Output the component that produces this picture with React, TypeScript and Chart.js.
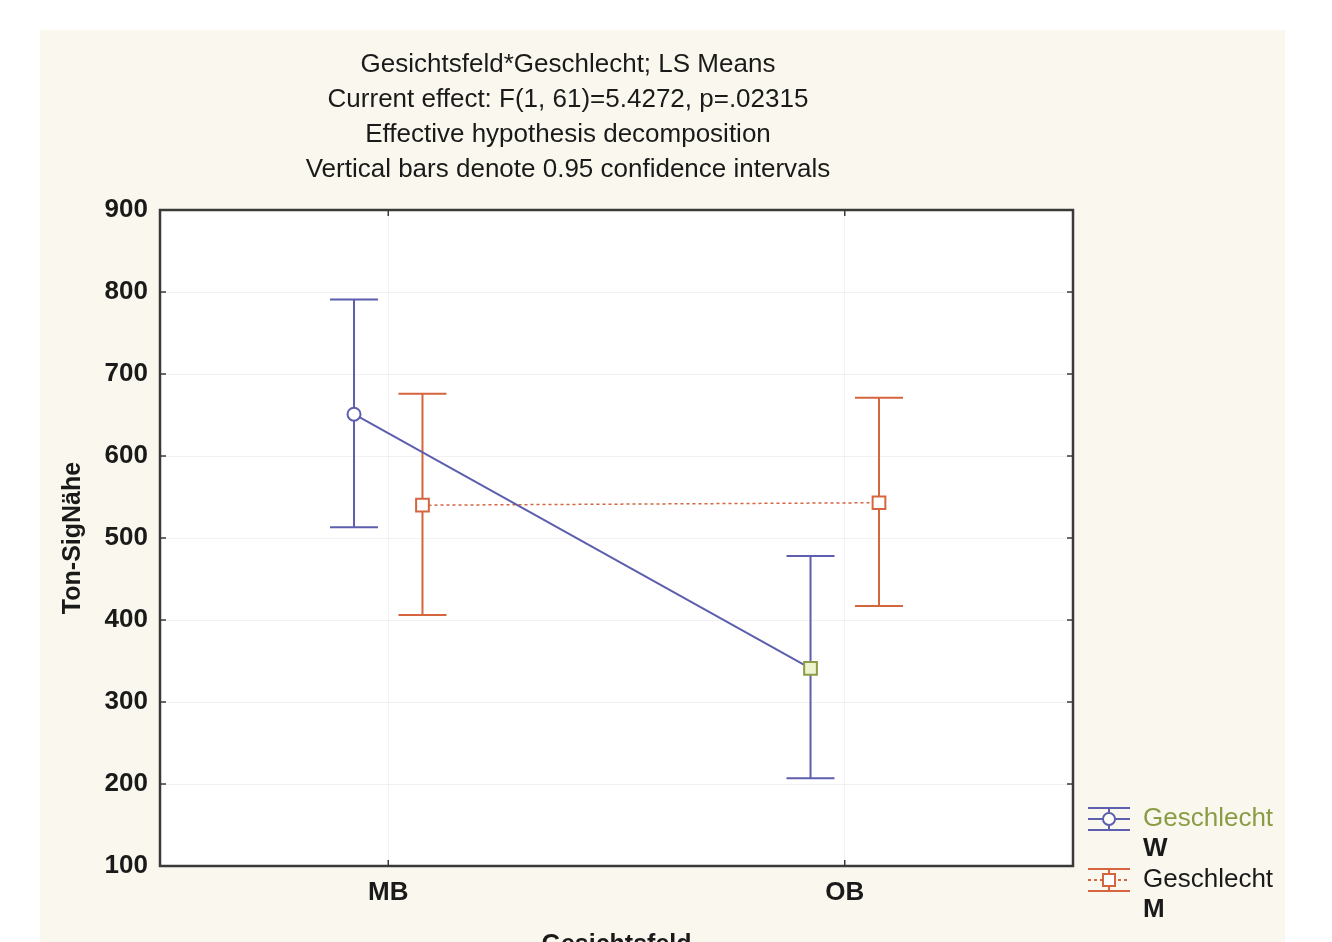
import React, { useEffect, useRef } from "react";
import { Chart, registerables } from "chart.js";

Chart.register(...registerables);

const CATEGORIES = ["MB", "OB"];
const W_MEANS = [651, 341];
const W_LOWER = [513, 207];
const W_UPPER = [791, 478];
const M_MEANS = [540, 543];
const M_LOWER = [406, 417];
const M_UPPER = [676, 671];
const DODGE = 0.075;
const Y_MIN = 100;
const Y_MAX = 900;
const Y_STEP = 100;

const TITLE_LINES = [
  "Gesichtsfeld*Geschlecht; LS Means",
  "Current effect: F(1, 61)=5.4272, p=.02315",
  "Effective hypothesis decomposition",
  "Vertical bars denote 0.95 confidence intervals",
];
const X_TITLE = "Gesichtsfeld";
const Y_TITLE = "Ton-SigNähe";
const LEGEND = [
  { line1: "Geschlecht", line2: "W" },
  { line1: "Geschlecht", line2: "M" },
];

const BLUE = "#5d5fae";
const ORANGE = "#d4653e";
const GREEN = "#8a9d45";
const FONT = "'Liberation Sans', Arial, sans-serif";

export default function App() {
  const ref = useRef<HTMLCanvasElement | null>(null);

  useEffect(() => {
    if (!ref.current) return;

    const errorBars = {
      id: "errorBars",
      beforeDraw(chart: any) {
        const { ctx, chartArea: a } = chart;
        ctx.save();
        ctx.fillStyle = "#ffffff";
        ctx.fillRect(a.left, a.top, a.right - a.left, a.bottom - a.top);
        ctx.restore();
      },
      beforeDatasetsDraw(chart: any) {
        const { ctx } = chart;
        const xs = chart.scales.x;
        const ys = chart.scales.y;
        ctx.save();
        chart.data.datasets.forEach((ds: any) => {
          ctx.strokeStyle = ds.errColor;
          ctx.lineWidth = 2;
          ds.data.forEach((p: any, i: number) => {
            const x = xs.getPixelForValue(p.x);
            const yl = ys.getPixelForValue(ds.lower[i]);
            const yh = ys.getPixelForValue(ds.upper[i]);
            ctx.beginPath();
            ctx.moveTo(x, yl);
            ctx.lineTo(x, yh);
            ctx.moveTo(x - 24, yl);
            ctx.lineTo(x + 24, yl);
            ctx.moveTo(x - 24, yh);
            ctx.lineTo(x + 24, yh);
            ctx.stroke();
          });
        });
        ctx.restore();
      },
      afterDraw(chart: any) {
        const { ctx, chartArea: a } = chart;
        const xs = chart.scales.x;
        const ys = chart.scales.y;
        ctx.save();
        // frame
        ctx.strokeStyle = "#3a3a3a";
        ctx.lineWidth = 2.5;
        ctx.strokeRect(a.left, a.top, a.right - a.left, a.bottom - a.top);
        // inner ticks
        ctx.lineWidth = 1.5;
        ys.ticks.forEach((t: any) => {
          const y = ys.getPixelForValue(t.value);
          ctx.beginPath();
          ctx.moveTo(a.left, y);
          ctx.lineTo(a.left + 6, y);
          ctx.moveTo(a.right, y);
          ctx.lineTo(a.right - 6, y);
          ctx.stroke();
        });
        xs.ticks.forEach((t: any) => {
          const x = xs.getPixelForValue(t.value);
          ctx.beginPath();
          ctx.moveTo(x, a.bottom);
          ctx.lineTo(x, a.bottom - 6);
          ctx.moveTo(x, a.top);
          ctx.lineTo(x, a.top + 6);
          ctx.stroke();
        });
        // title
        ctx.fillStyle = "#1a1a1a";
        ctx.font = `26px ${FONT}`;
        ctx.textAlign = "center";
        ctx.textBaseline = "middle";
        TITLE_LINES.forEach((l, i) => ctx.fillText(l, 528, 35 + i * 35));
        // legend
        const entries = [
          { y: 789, color: BLUE, dashed: false, style: "circle", firstColor: GREEN },
          { y: 850, color: ORANGE, dashed: true, style: "rect", firstColor: "#1a1a1a" },
        ];
        entries.forEach((e, i) => {
          const cx = 1069;
          ctx.strokeStyle = e.color;
          ctx.lineWidth = 2;
          ctx.setLineDash([]);
          ctx.beginPath();
          ctx.moveTo(cx - 21, e.y - 11);
          ctx.lineTo(cx + 21, e.y - 11);
          ctx.moveTo(cx - 21, e.y + 11);
          ctx.lineTo(cx + 21, e.y + 11);
          ctx.moveTo(cx, e.y - 11);
          ctx.lineTo(cx, e.y + 11);
          ctx.stroke();
          if (e.dashed) ctx.setLineDash([3, 3]);
          ctx.beginPath();
          ctx.moveTo(cx - 21, e.y);
          ctx.lineTo(cx + 21, e.y);
          ctx.stroke();
          ctx.setLineDash([]);
          ctx.fillStyle = "#fff";
          ctx.beginPath();
          if (e.style === "circle") ctx.arc(cx, e.y, 6, 0, Math.PI * 2);
          else ctx.rect(cx - 6, e.y - 6, 12, 12);
          ctx.fill();
          ctx.stroke();
          ctx.textAlign = "left";
          ctx.textBaseline = "middle";
          ctx.font = `26px ${FONT}`;
          ctx.fillStyle = e.firstColor;
          ctx.fillText(LEGEND[i].line1, 1103, e.y);
          ctx.fillStyle = "#1a1a1a";
          ctx.font = `bold 26px ${FONT}`;
          ctx.fillText(LEGEND[i].line2, 1103, e.y + 30);
        });
        ctx.restore();
      },
    };

    const chart = new Chart(ref.current, {
      type: "line",
      data: {
        datasets: [
          {
            label: "Geschlecht W",
            data: W_MEANS.map((v, i) => ({ x: i - DODGE, y: v })),
            lower: W_LOWER,
            upper: W_UPPER,
            errColor: BLUE,
            borderColor: BLUE,
            borderWidth: 2,
            pointStyle: ["circle", "rect"],
            pointRadius: [6.5, 9],
            pointBorderWidth: 2,
            pointBorderColor: [BLUE, GREEN],
            pointBackgroundColor: ["#ffffff", "#eef4cf"],
          } as any,
          {
            label: "Geschlecht M",
            data: M_MEANS.map((v, i) => ({ x: i + DODGE, y: v })),
            lower: M_LOWER,
            upper: M_UPPER,
            errColor: ORANGE,
            borderColor: ORANGE,
            borderWidth: 1.5,
            borderDash: [3, 3],
            pointStyle: "rect",
            pointRadius: 9,
            pointBorderWidth: 2,
            pointBorderColor: ORANGE,
            pointBackgroundColor: "#ffffff",
          } as any,
        ],
      },
      options: {
        animation: false,
        responsive: false,
        maintainAspectRatio: false,
        layout: { padding: { left: 0, top: 180, right: 212, bottom: 0 } },
        plugins: { legend: { display: false }, title: { display: false }, tooltip: { enabled: false } },
        scales: {
          x: {
            type: "linear",
            min: -0.5,
            max: 1.5,
            afterBuildTicks: (s: any) => {
              s.ticks = CATEGORIES.map((_, i) => ({ value: i }));
            },
            afterFit: (s: any) => {
              s.height = 94;
            },
            grid: { color: "rgba(0,0,0,0.05)", drawTicks: false },
            border: { display: false },
            ticks: {
              padding: 11,
              color: "#1a1a1a",
              font: { family: FONT, size: 26, weight: "bold" },
              callback: (v: any) => CATEGORIES[Math.round(Number(v))] ?? "",
            },
            title: {
              display: true,
              text: X_TITLE,
              color: "#1a1a1a",
              font: { family: FONT, size: 25, weight: "bold" },
              padding: { top: 0, bottom: 0 },
            },
          },
          y: {
            min: Y_MIN,
            max: Y_MAX,
            afterFit: (s: any) => {
              s.width = 120;
            },
            grid: { color: "rgba(0,0,0,0.05)", drawTicks: false },
            border: { display: false },
            ticks: {
              stepSize: Y_STEP,
              padding: 12,
              color: "#1a1a1a",
              font: { family: FONT, size: 26, weight: "bold" },
            },
            title: {
              display: true,
              text: Y_TITLE,
              color: "#1a1a1a",
              font: { family: FONT, size: 25, weight: "bold" },
              padding: { top: 18, bottom: 0 },
            },
          },
        },
      } as any,
      plugins: [errorBars],
    });
    return () => chart.destroy();
  }, []);

  return (
    <div
      style={{
        position: "fixed",
        left: 40,
        top: 30,
        width: 1245,
        height: 930,
        background: "#faf8ee",
      }}
    >
      <canvas ref={ref} width={1245} height={930} style={{ display: "block" }} />
    </div>
  );
}
